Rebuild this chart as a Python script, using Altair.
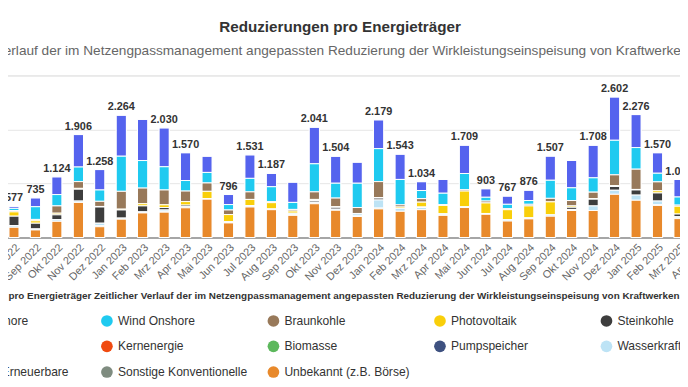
import altair as alt
import pandas as pd

# ---------------- data ----------------
axis_months = ["Jul 2022", "Aug 2022", "Sep 2022", "Okt 2022", "Nov 2022", "Dez 2022",
               "Jan 2023", "Feb 2023", "Mrz 2023", "Apr 2023", "Mai 2023", "Jun 2023",
               "Jul 2023", "Aug 2023", "Sep 2023", "Okt 2023", "Nov 2023", "Dez 2023",
               "Jan 2024", "Feb 2024", "Mrz 2024", "Apr 2024", "Mai 2024", "Jun 2024",
               "Jul 2024", "Aug 2024", "Sep 2024", "Okt 2024", "Nov 2024", "Dez 2024",
               "Jan 2025", "Feb 2025", "Mrz 2025", "Apr 2025"]
months = axis_months[1:-1]

series = ["Wind Offshore", "Wind Onshore", "Braunkohle", "Photovoltaik", "Steinkohle",
          "Erdgas", "Kernenergie", "Biomasse", "Pumpspeicher", "Wasserkraft",
          "Sonstige Erneuerbare", "Sonstige Konventionelle", "Unbekannt (z.B. Börse)"]
colors = ["#5563ee", "#1fcaf0", "#98795a", "#f9cf0a", "#3d3d3d",
          "#c0504d", "#f04a10", "#5cb85c", "#3e5180", "#bde3f5",
          "#9fd98b", "#7f8c80", "#e8892b"]

wind_offshore = [37, 165, 329, 601, 378, 759, 761, 720, 515, 300, 186, 436, 247, 375, 676, 499,
                 390, 534, 468, 164, 255, 524, 158, 152, 191, 447, 506, 603, 802, 611, 380, 324]
wind_onshore = [40, 235, 210, 270, 210, 650, 510, 430, 195, 195, 100, 250, 275, 130, 520, 275,
                450, 610, 470, 150, 210, 300, 70, 80, 70, 335, 235, 265, 640, 400, 160, 150]
braunkohle = [25, 25, 135, 125, 95, 330, 290, 275, 195, 155, 85, 140, 20, 30, 140, 160,
              110, 295, 40, 65, 15, 25, 35, 20, 30, 65, 100, 120, 200, 375, 165, 20]
photovoltaik = [80, 45, 30, 15, 10, 15, 40, 50, 65, 135, 130, 115, 115, 40, 20, 10,
                5, 10, 25, 90, 155, 290, 195, 185, 220, 240, 25, 10, 15, 10, 40, 145]
steinkohle = [175, 105, 90, 220, 300, 150, 110, 45, 30, 0, 10, 5, 0, 0, 30, 35,
              0, 35, 0, 10, 0, 0, 0, 0, 0, 0, 40, 125, 70, 95, 150, 50]
biomasse = [0, 0, 0, 0, 0, 0, 0, 0, 0, 0, 0, 0, 0, 0, 0, 0,
            0, 0, 0, 0, 10, 0, 0, 0, 0, 0, 0, 0, 0, 0, 0, 10]
wasserkraft = [30, 20, 30, 25, 45, 20, 20, 25, 20, 10, 15, 20, 15, 25, 20, 20,
               40, 150, 55, 40, 20, 15, 15, 25, 20, 25, 20, 85, 75, 95, 65, 25]
sonstige_konventionelle = [0, 0, 0, 0, 20, 0, 0, 15, 0, 0, 0, 0, 0, 15, 10, 0,
                           10, 15, 0, 0, 0, 0, 0, 0, 0, 0, 0, 0, 0, 0, 15, 0]
unbekannt = [190, 140, 300, 650, 200, 340, 455, 470, 550, 710, 270, 565, 515, 410, 625, 505,
             390, 530, 485, 515, 410, 555, 430, 305, 345, 395, 500, 500, 800, 690, 595, 350]

# months whose stack label is suppressed (overlapping labels hidden)
hidden_labels = ["Feb 2023", "Mai 2023", "Sep 2023", "Dez 2023", "Apr 2024", "Okt 2024"]

title_text = "Reduzierungen pro Energieträger"
subtitle_text = ("Zeitlicher Verlauf der im Netzengpassmanagement angepassten Reduzierung "
                 "der Wirkleistungseinspeisung von Kraftwerken")
legend_title = title_text + " " + subtitle_text

# ---------------- tables ----------------
values_by_series = {
    "Wind Offshore": wind_offshore,
    "Wind Onshore": wind_onshore,
    "Braunkohle": braunkohle,
    "Photovoltaik": photovoltaik,
    "Steinkohle": steinkohle,
    "Biomasse": biomasse,
    "Wasserkraft": wasserkraft,
    "Sonstige Konventionelle": sonstige_konventionelle,
    "Unbekannt (z.B. Börse)": unbekannt,
}
rows = []
for name, vals in values_by_series.items():
    for m, v in zip(months, vals):
        if v > 0:
            rows.append({"month": m, "series": name, "value": v, "ord": series.index(name)})
df = pd.DataFrame(rows)

totals = [sum(vals[i] for vals in values_by_series.values()) for i in range(len(months))]
tot_df = pd.DataFrame({"month": months, "total": totals})
tot_df["label"] = tot_df["total"].map(lambda v: f"{v:,}".replace(",", "."))
tot_df = tot_df[~tot_df["month"].isin(hidden_labels)]

FONT = "Liberation Sans, Arial, Helvetica, sans-serif"

x_enc = alt.X("month:N", sort=axis_months,
              scale=alt.Scale(domain=axis_months, paddingInner=0, paddingOuter=0),
              axis=alt.Axis(title=None, labelAngle=-45, labelFontSize=11, labelColor="#666666",
                            ticks=False, domainColor="#8f8f8f", domainWidth=1.5,
                            labelPadding=4, labelFont=FONT))
y_scale = alt.Scale(domain=[0, 3000], nice=False)

bars = alt.Chart(df).mark_bar(
    size=10.5, stroke="white", strokeWidth=1,
    cornerRadiusTopLeft=alt.ExprRef("datum.series === 'Wind Offshore' ? 3 : 0"),
    cornerRadiusTopRight=alt.ExprRef("datum.series === 'Wind Offshore' ? 3 : 0"),
).encode(
    x=x_enc,
    y=alt.Y("value:Q", stack="zero", scale=y_scale,
            axis=alt.Axis(title=None, values=[0, 1000, 2000, 3000], grid=True,
                          gridColor="#e6e6e6", domain=False, ticks=False,
                          labelColor="#666666", labelFontSize=11, format=",d")),
    color=alt.Color("series:N",
                    scale=alt.Scale(domain=series, range=colors),
                    legend=alt.Legend(
                        title=legend_title, orient="none", legendX=-48, legendY=218,
                        direction="horizontal", columns=5, gridAlign="all",
                        symbolType="circle", symbolSize=140, symbolStrokeWidth=0,
                        labelFontSize=12.2, labelColor="#333333", labelFont=FONT,
                        labelLimit=300, labelOffset=5,
                        titleFontSize=10, titleFontWeight="bold", titleColor="#333333",
                        titleFont=FONT, titleLimit=1200, titleAnchor="start",
                        titlePadding=14, rowPadding=13, columnPadding=20.5)),
    order=alt.Order("ord:Q", sort="descending"),
)

labels = alt.Chart(tot_df).mark_text(
    fontSize=11, fontWeight="bold", color="#333333", dy=-5, baseline="alphabetic", font=FONT
).encode(
    x=alt.X("month:N", sort=axis_months),
    y=alt.Y("total:Q", scale=y_scale),
    text="label:N",
)

subtitle = alt.Chart(pd.DataFrame({"t": [subtitle_text]})).mark_text(
    fontSize=13.8, color="#666666", align="center", baseline="alphabetic", font=FONT
).encode(text="t:N", x=alt.value(334.5), y=alt.value(-21))

chart = alt.layer(bars, labels, subtitle).properties(
    width=738, height=164,
    title=alt.TitleParams(title_text, fontSize=15.4, fontWeight="bold", color="#333333",
                          font=FONT, anchor="middle", dx=-6.5, offset=9),
    padding={"left": -26.5, "right": -31.5, "top": 66, "bottom": 149},
    autosize=alt.AutoSizeParams(type="none"),
).configure_view(stroke=None).configure(background="white")

chart.save("out.html", embed_options={"renderer": "svg", "actions": False})
